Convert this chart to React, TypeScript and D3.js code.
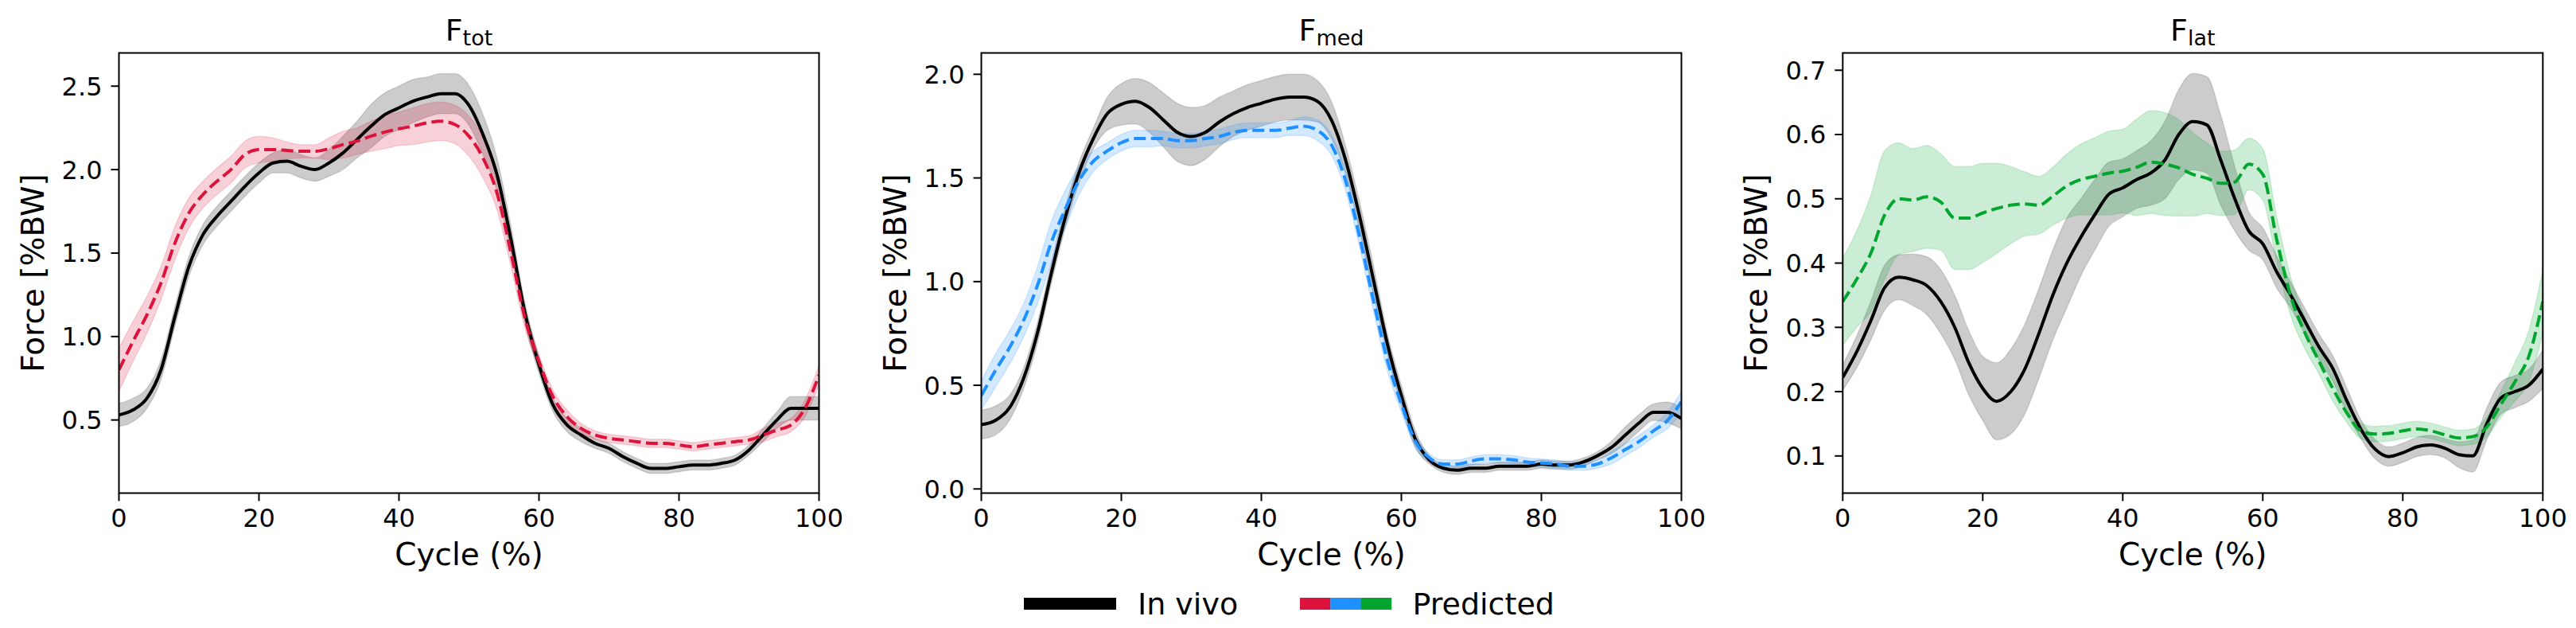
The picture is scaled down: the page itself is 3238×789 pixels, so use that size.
import React, { useRef, useEffect } from 'react';
import * as d3 from 'd3';

// gait cycle sample points (every 2 %)
const cycle = d3.range(0, 101, 2);

// F_tot  [%BW]
const totInVivo = [0.53, 0.56, 0.63, 0.80, 1.12, 1.42, 1.61, 1.72, 1.81, 1.90, 1.98, 2.04, 2.05, 2.02, 2.00, 2.04, 2.10, 2.18, 2.26, 2.33, 2.37, 2.41, 2.435, 2.455, 2.455, 2.385, 2.21, 1.97, 1.58, 1.14, 0.83, 0.59, 0.47, 0.41, 0.36, 0.33, 0.28, 0.24, 0.21, 0.21, 0.22, 0.23, 0.23, 0.24, 0.26, 0.32, 0.41, 0.50, 0.57, 0.57, 0.57];
const totInVivoSd = [0.07, 0.07, 0.06, 0.06, 0.06, 0.06, 0.06, 0.06, 0.06, 0.06, 0.06, 0.06, 0.07, 0.07, 0.07, 0.08, 0.10, 0.11, 0.13, 0.13, 0.13, 0.13, 0.12, 0.12, 0.12, 0.12, 0.12, 0.10, 0.08, 0.06, 0.05, 0.04, 0.04, 0.04, 0.03, 0.03, 0.03, 0.03, 0.03, 0.03, 0.03, 0.03, 0.03, 0.03, 0.03, 0.03, 0.04, 0.05, 0.07, 0.07, 0.07];
const totPred = [0.80, 0.97, 1.13, 1.32, 1.56, 1.74, 1.85, 1.93, 2.00, 2.09, 2.12, 2.12, 2.115, 2.11, 2.11, 2.125, 2.15, 2.17, 2.20, 2.225, 2.245, 2.26, 2.28, 2.29, 2.27, 2.20, 2.07, 1.86, 1.50, 1.11, 0.85, 0.64, 0.52, 0.45, 0.41, 0.39, 0.38, 0.37, 0.36, 0.36, 0.35, 0.34, 0.35, 0.36, 0.37, 0.38, 0.41, 0.44, 0.47, 0.57, 0.77];
const totPredSd = [0.13, 0.12, 0.11, 0.10, 0.10, 0.09, 0.08, 0.08, 0.08, 0.08, 0.08, 0.07, 0.05, 0.04, 0.04, 0.065, 0.08, 0.08, 0.09, 0.10, 0.10, 0.11, 0.115, 0.115, 0.115, 0.12, 0.12, 0.10, 0.08, 0.06, 0.04, 0.04, 0.04, 0.03, 0.025, 0.025, 0.025, 0.025, 0.025, 0.025, 0.025, 0.025, 0.025, 0.025, 0.025, 0.025, 0.04, 0.04, 0.04, 0.05, 0.06];

// F_med  [%BW]
const medInVivo = [0.31, 0.33, 0.39, 0.53, 0.75, 1.04, 1.31, 1.53, 1.69, 1.81, 1.855, 1.87, 1.84, 1.78, 1.72, 1.70, 1.72, 1.77, 1.81, 1.84, 1.86, 1.88, 1.89, 1.89, 1.87, 1.78, 1.59, 1.32, 1.01, 0.70, 0.45, 0.24, 0.14, 0.10, 0.09, 0.10, 0.10, 0.11, 0.11, 0.11, 0.12, 0.115, 0.115, 0.13, 0.16, 0.20, 0.26, 0.32, 0.37, 0.37, 0.34];
const medInVivoSd = [0.07, 0.07, 0.06, 0.05, 0.05, 0.05, 0.05, 0.05, 0.05, 0.08, 0.10, 0.11, 0.12, 0.13, 0.14, 0.14, 0.13, 0.12, 0.11, 0.11, 0.11, 0.11, 0.11, 0.11, 0.10, 0.09, 0.07, 0.07, 0.07, 0.05, 0.05, 0.04, 0.02, 0.02, 0.02, 0.02, 0.02, 0.02, 0.02, 0.02, 0.02, 0.02, 0.02, 0.02, 0.02, 0.03, 0.04, 0.04, 0.04, 0.05, 0.05];
const medPred = [0.45, 0.57, 0.68, 0.81, 0.98, 1.19, 1.35, 1.49, 1.58, 1.63, 1.67, 1.69, 1.69, 1.69, 1.68, 1.68, 1.69, 1.70, 1.72, 1.73, 1.73, 1.73, 1.74, 1.75, 1.73, 1.66, 1.49, 1.22, 0.91, 0.62, 0.41, 0.23, 0.15, 0.12, 0.12, 0.135, 0.145, 0.145, 0.14, 0.13, 0.125, 0.12, 0.11, 0.11, 0.12, 0.15, 0.19, 0.23, 0.28, 0.33, 0.42];
const medPredSd = [0.07, 0.08, 0.08, 0.08, 0.09, 0.10, 0.09, 0.07, 0.05, 0.04, 0.04, 0.04, 0.04, 0.035, 0.035, 0.035, 0.035, 0.035, 0.035, 0.035, 0.035, 0.035, 0.035, 0.045, 0.05, 0.05, 0.05, 0.05, 0.05, 0.05, 0.04, 0.03, 0.02, 0.02, 0.02, 0.02, 0.02, 0.02, 0.02, 0.02, 0.02, 0.02, 0.02, 0.02, 0.02, 0.03, 0.03, 0.03, 0.03, 0.04, 0.05];

// F_lat  [%BW]
const latInVivo = [0.222, 0.262, 0.31, 0.362, 0.378, 0.374, 0.365, 0.34, 0.30, 0.245, 0.205, 0.185, 0.20, 0.235, 0.29, 0.35, 0.40, 0.44, 0.475, 0.507, 0.517, 0.53, 0.54, 0.56, 0.60, 0.62, 0.615, 0.56, 0.50, 0.45, 0.43, 0.386, 0.35, 0.31, 0.27, 0.236, 0.186, 0.142, 0.111, 0.099, 0.105, 0.114, 0.117, 0.112, 0.102, 0.10, 0.15, 0.19, 0.20, 0.21, 0.235];
const latInVivoSd = [0.02, 0.025, 0.03, 0.035, 0.035, 0.04, 0.045, 0.05, 0.05, 0.05, 0.05, 0.06, 0.066, 0.07, 0.07, 0.07, 0.07, 0.06, 0.055, 0.05, 0.045, 0.045, 0.05, 0.06, 0.07, 0.075, 0.075, 0.07, 0.05, 0.03, 0.025, 0.025, 0.02, 0.02, 0.02, 0.02, 0.02, 0.015, 0.015, 0.015, 0.015, 0.015, 0.015, 0.015, 0.02, 0.025, 0.025, 0.025, 0.025, 0.025, 0.03];
const latPred = [0.34, 0.375, 0.415, 0.475, 0.50, 0.498, 0.503, 0.495, 0.47, 0.47, 0.478, 0.485, 0.49, 0.492, 0.49, 0.504, 0.52, 0.53, 0.535, 0.54, 0.543, 0.549, 0.557, 0.554, 0.548, 0.538, 0.532, 0.524, 0.526, 0.554, 0.538, 0.436, 0.348, 0.292, 0.248, 0.205, 0.167, 0.139, 0.134, 0.135, 0.139, 0.142, 0.139, 0.133, 0.128, 0.13, 0.145, 0.18, 0.215, 0.255, 0.34];
const latPredSd = [0.068, 0.075, 0.09, 0.10, 0.087, 0.08, 0.08, 0.075, 0.08, 0.08, 0.077, 0.07, 0.06, 0.05, 0.045, 0.045, 0.05, 0.055, 0.06, 0.065, 0.065, 0.075, 0.08, 0.08, 0.075, 0.065, 0.055, 0.05, 0.05, 0.04, 0.04, 0.035, 0.03, 0.025, 0.02, 0.02, 0.015, 0.012, 0.012, 0.012, 0.012, 0.012, 0.012, 0.012, 0.012, 0.012, 0.015, 0.02, 0.03, 0.04, 0.05];

// panel titles (main letter + subscript), y limits and ticks
const titleSubs = ['tot', 'med', 'lat'];
const yDomains = [[0.062, 2.699], [-0.02, 2.103], [0.0422, 0.7269]];
const yTicks = [[0.5, 1.0, 1.5, 2.0, 2.5], [0.0, 0.5, 1.0, 1.5, 2.0], [0.1, 0.2, 0.3, 0.4, 0.5, 0.6, 0.7]];
const xTicks = [0, 20, 40, 60, 80, 100];
const predColors = ['#dc143c', '#1e90ff', '#02a62e'];
const legendLabels = ['In vivo', 'Predicted'];

const FONT = 'DejaVu Sans, sans-serif';

const drawPanel = (svg, i, inVivo, inVivoSd, pred, predSd) => {
  const left = [149.5, 1233.5, 2316.3][i];
  const width = 880;
  const top = 66.5;
  const bottom = 619.5;
  const color = predColors[i];

  const x = d3.scaleLinear().domain([0, 100]).range([left, left + width]);
  const y = d3.scaleLinear().domain(yDomains[i]).range([bottom, top]);

  const g = svg.append('g');

  svg.append('defs').append('clipPath')
    .attr('id', `clip-${i}`)
    .append('rect')
    .attr('x', left).attr('y', top)
    .attr('width', width).attr('height', bottom - top);

  const plot = g.append('g').attr('clip-path', `url(#clip-${i})`);

  const band = (mean, sd) => d3.area()
    .x((d, k) => x(cycle[k]))
    .y0((d, k) => y(mean[k] - sd[k]))
    .y1((d, k) => y(mean[k] + sd[k]))
    .curve(d3.curveMonotoneX)(mean);

  const line = (mean) => d3.line()
    .x((d, k) => x(cycle[k]))
    .y(d => y(d))
    .curve(d3.curveMonotoneX)(mean);

  plot.append('path')
    .attr('d', band(inVivo, inVivoSd))
    .attr('fill', '#000').attr('fill-opacity', 0.2)
    .attr('stroke', '#000').attr('stroke-opacity', 0.12).attr('stroke-width', 1.5);

  plot.append('path')
    .attr('d', band(pred, predSd))
    .attr('fill', color).attr('fill-opacity', 0.2)
    .attr('stroke', color).attr('stroke-opacity', 0.15).attr('stroke-width', 1.5);

  plot.append('path')
    .attr('d', line(inVivo))
    .attr('fill', 'none').attr('stroke', '#000').attr('stroke-width', 4);

  plot.append('path')
    .attr('d', line(pred))
    .attr('fill', 'none').attr('stroke', color).attr('stroke-width', 4)
    .attr('stroke-dasharray', '15,6.5');

  // frame
  g.append('rect')
    .attr('x', left).attr('y', top)
    .attr('width', width).attr('height', bottom - top)
    .attr('fill', 'none').attr('stroke', '#000').attr('stroke-width', 2);

  // x ticks
  const xt = g.append('g').selectAll('g').data(xTicks).join('g');
  xt.append('line')
    .attr('x1', d => x(d)).attr('x2', d => x(d))
    .attr('y1', bottom).attr('y2', bottom + 10)
    .attr('stroke', '#000').attr('stroke-width', 2);
  xt.append('text')
    .attr('x', d => x(d)).attr('y', 662)
    .attr('text-anchor', 'middle')
    .style('font-family', FONT).style('font-size', '32px')
    .text(d => d);

  // y ticks
  const yt = g.append('g').selectAll('g').data(yTicks[i]).join('g');
  yt.append('line')
    .attr('x1', left - 10).attr('x2', left)
    .attr('y1', d => y(d)).attr('y2', d => y(d))
    .attr('stroke', '#000').attr('stroke-width', 2);
  yt.append('text')
    .attr('x', left - 21).attr('y', d => y(d) + 11.5)
    .attr('text-anchor', 'end')
    .style('font-family', FONT).style('font-size', '32px')
    .text(d => d3.format('.1f')(d));

  // axis labels
  g.append('text')
    .attr('x', left + width / 2).attr('y', 710)
    .attr('text-anchor', 'middle')
    .style('font-family', FONT).style('font-size', '39px')
    .text('Cycle (%)');

  g.append('text')
    .attr('transform', `translate(${left - 95},${(top + bottom) / 2}) rotate(-90)`)
    .attr('text-anchor', 'middle')
    .style('font-family', FONT).style('font-size', '39px')
    .text('Force [%BW]');

  // title with subscript
  const title = g.append('text')
    .attr('x', left + width / 2).attr('y', 51)
    .attr('text-anchor', 'middle')
    .style('font-family', FONT);
  title.append('tspan').style('font-size', '38px').text('F');
  title.append('tspan').style('font-size', '27px').attr('dy', 6).text(titleSubs[i]);
};

const App: React.FC = () => {
  const ref = useRef<SVGSVGElement | null>(null);

  useEffect(() => {
    const svg = d3.select(ref.current);
    svg.selectAll('*').remove();

    drawPanel(svg, 0, totInVivo, totInVivoSd, totPred, totPredSd);
    drawPanel(svg, 1, medInVivo, medInVivoSd, medPred, medPredSd);
    drawPanel(svg, 2, latInVivo, latInVivoSd, latPred, latPredSd);

    // legend
    const lg = svg.append('g');
    lg.append('rect')
      .attr('x', 1287).attr('y', 751)
      .attr('width', 116).attr('height', 15)
      .attr('fill', '#000');
    const seg = 38.3;
    lg.selectAll('rect.pc')
      .data(predColors)
      .join('rect')
      .attr('class', 'pc')
      .attr('x', (d, k) => 1634 + k * seg).attr('y', 751)
      .attr('width', seg + 0.3).attr('height', 15)
      .attr('fill', d => d);
    lg.selectAll('text')
      .data(legendLabels)
      .join('text')
      .attr('x', (d, k) => [1430, 1775.5][k]).attr('y', 772)
      .style('font-family', FONT).style('font-size', '38px')
      .text(d => d);
  }, []);

  return (
    <svg
      ref={ref}
      width={3238}
      height={789}
      style={{ position: 'absolute', left: 0, top: 0, background: '#fff' }}
    />
  );
};

export default App;
